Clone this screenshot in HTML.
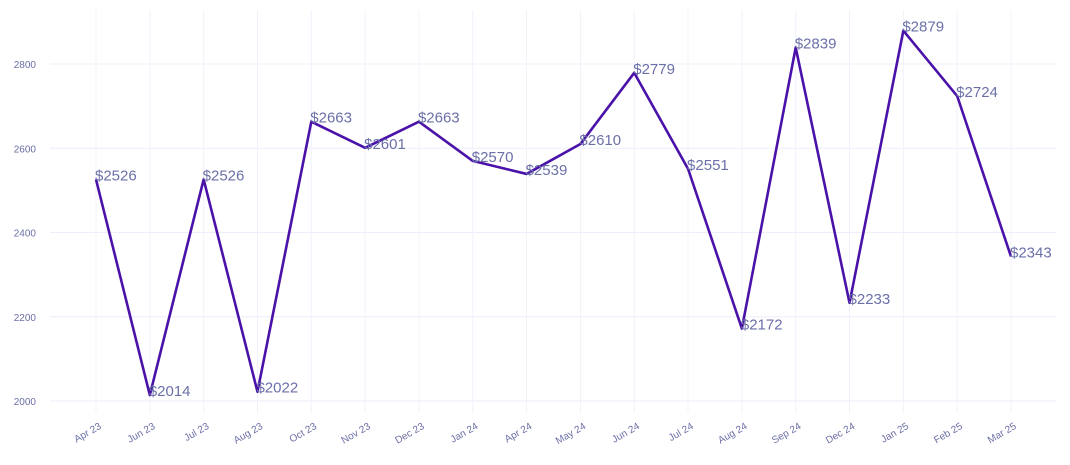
<!DOCTYPE html>
<html><head><meta charset="utf-8"><style>
body{margin:0;background:#fff;}
svg{display:block;font-family:"Liberation Sans",sans-serif;}
</style></head><body>
<svg id="chart" width="1070" height="465" viewBox="0 0 1070 465">
<g id="grid"></g>
<g id="yaxis"></g>
<g id="xaxis"></g>
<g id="series"></g>
</svg>
<script>
const categories=["Apr 23","Jun 23","Jul 23","Aug 23","Oct 23","Nov 23","Dec 23","Jan 24","Apr 24","May 24","Jun 24","Jul 24","Aug 24","Sep 24","Dec 24","Jan 25","Feb 25","Mar 25"];
const values=[2526,2014,2526,2022,2663,2601,2663,2570,2539,2610,2779,2551,2172,2839,2233,2879,2724,2343];
const yTicks=[2000,2200,2400,2600,2800];
const NS="http://www.w3.org/2000/svg";
const x0=96,x1=1011;
function xScale(i){return x0+(x1-x0)*i/(categories.length-1);}
function yScale(v){return 401-(v-2000)*(337/800);}
function mk(tag,attrs,parent){const e=document.createElementNS(NS,tag);for(const k in attrs)e.setAttribute(k,attrs[k]);parent.appendChild(e);return e;}
const grid=document.getElementById('grid'),ya=document.getElementById('yaxis'),xa=document.getElementById('xaxis'),se=document.getElementById('series');
yTicks.forEach(t=>{
  const l=mk('line',{x1:50,x2:1056,y1:yScale(t),y2:yScale(t),stroke:'#eeeefb','stroke-width':1},grid);
  
  
  const tx=mk('text',{x:36,y:yScale(t)+4,'text-anchor':'end','font-size':10,fill:'#6b6fa6'},ya);
  tx.textContent=t;
  
  
});
categories.forEach((c,i)=>{
  const x=xScale(i);
  const l=mk('line',{x1:x,x2:x,y1:10,y2:413,stroke:'#f1f1fb','stroke-width':1},grid);
  
  
  const tx=mk('text',{x:x+6,y:428,'text-anchor':'end','font-size':10,fill:'#6b6fa6',transform:`rotate(-30 ${x+6} 428)`},xa);
  tx.textContent=c;
  
  
});
const pts=values.map((v,i)=>xScale(i)+','+yScale(v)).join(' ');
const pl=mk('polyline',{points:pts,fill:'none',stroke:'#4a12a8','stroke-width':2.6,'stroke-linejoin':'round'},se);


values.forEach((v,i)=>{
  const tx=mk('text',{x:xScale(i)-1,y:yScale(v)+1,'font-size':15,fill:'#6b70a8'},se);
  tx.textContent='$'+v;
  
  
});
</script>
</body></html>
